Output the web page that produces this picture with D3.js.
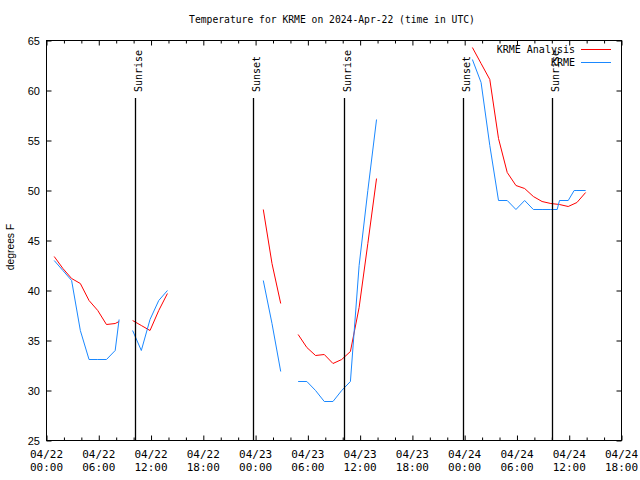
<!DOCTYPE html>
<html><head><meta charset="utf-8">
<script src="https://cdn.jsdelivr.net/npm/d3@7"></script>
<style>body{margin:0;background:#fff}svg{display:block}</style>
</head><body>
<svg id="c" width="640" height="480"></svg>
<script>
// ---- data (UTC) ----
const chartTitle = "Temperature for KRME on 2024-Apr-22 (time in UTC)";
const yLabel = "degrees F";
const xDomain = ["2024-04-22 00:00", "2024-04-24 18:00"];
const yTicks = [25, 30, 35, 40, 45, 50, 55, 60, 65];
const seriesNames = ["KRME Analysis", "KRME"];

const anaTimes = [
  "2024-04-22 00:53","2024-04-22 01:53","2024-04-22 02:53","2024-04-22 03:53","2024-04-22 04:53","2024-04-22 05:53","2024-04-22 06:53","2024-04-22 07:53","2024-04-22 08:20",
  "2024-04-22 09:00",
  "2024-04-22 09:53","2024-04-22 10:53","2024-04-22 11:53","2024-04-22 12:53","2024-04-22 13:53",
  "2024-04-22 14:53",
  "2024-04-23 00:53","2024-04-23 01:53","2024-04-23 02:53",
  "2024-04-23 03:53",
  "2024-04-23 04:53","2024-04-23 05:53","2024-04-23 06:53","2024-04-23 07:53","2024-04-23 08:53","2024-04-23 09:53","2024-04-23 10:53","2024-04-23 11:53","2024-04-23 12:53","2024-04-23 13:53",
  "2024-04-23 14:53",
  "2024-04-24 00:53","2024-04-24 01:53","2024-04-24 02:53","2024-04-24 03:53","2024-04-24 04:53","2024-04-24 05:53","2024-04-24 06:53","2024-04-24 07:53","2024-04-24 08:53","2024-04-24 09:53","2024-04-24 10:53","2024-04-24 11:53","2024-04-24 12:53","2024-04-24 13:53"
];
const anaTemps = [
  43.4, 42.2, 41.2, 40.7, 39.0, 38.0, 36.6, 36.7, 36.9,
  null,
  37.0, 36.5, 36.0, 38.0, 39.7,
  null,
  48.1, 42.7, 38.7,
  null,
  35.6, 34.3, 33.5, 33.6, 32.7, 33.1, 33.9, 38.3, 44.7, 51.2,
  null,
  64.3, 62.7, 61.1, 55.2, 51.8, 50.5, 50.2, 49.4, 48.9, 48.7, 48.6, 48.4, 48.8, 49.8
];

const obsTimes = [
  "2024-04-22 00:53","2024-04-22 01:53","2024-04-22 02:53","2024-04-22 03:53","2024-04-22 04:53","2024-04-22 05:53","2024-04-22 06:53","2024-04-22 07:53","2024-04-22 08:20",
  "2024-04-22 09:00",
  "2024-04-22 09:53","2024-04-22 10:53","2024-04-22 11:53","2024-04-22 12:53","2024-04-22 13:53",
  "2024-04-22 14:53",
  "2024-04-23 00:53","2024-04-23 01:53","2024-04-23 02:53",
  "2024-04-23 03:53",
  "2024-04-23 04:53","2024-04-23 05:53","2024-04-23 06:53","2024-04-23 07:53","2024-04-23 08:53","2024-04-23 09:53","2024-04-23 10:53","2024-04-23 11:53","2024-04-23 12:53","2024-04-23 13:53",
  "2024-04-23 14:53",
  "2024-04-24 00:53","2024-04-24 01:53","2024-04-24 02:53","2024-04-24 03:53","2024-04-24 04:53","2024-04-24 05:53","2024-04-24 06:53","2024-04-24 07:53","2024-04-24 08:53","2024-04-24 09:53","2024-04-24 10:37","2024-04-24 10:53","2024-04-24 11:53","2024-04-24 12:34","2024-04-24 12:53","2024-04-24 13:53"
];
const obsTemps = [
  43.0, 42.0, 41.0, 36.0, 33.1, 33.1, 33.1, 34.0, 37.1,
  null,
  36.0, 34.0, 37.1, 39.0, 40.0,
  null,
  41.0, 36.7, 31.9,
  null,
  30.9, 30.9, 30.0, 28.9, 28.9, 30.0, 30.9, 42.5, 50.0, 57.1,
  null,
  63.1, 60.8, 54.5, 49.0, 49.0, 48.1, 49.0, 48.1, 48.1, 48.1, 48.1, 49.0, 49.0, 50.0, 50.0, 50.0
];

const sunLabels = ["Sunrise", "Sunset", "Sunrise", "Sunset", "Sunrise"];
const sunTimes = ["2024-04-22 10:08", "2024-04-22 23:43", "2024-04-23 10:10", "2024-04-23 23:49", "2024-04-24 09:58"];

// ---- drawing ----
const parse = d3.utcParse("%Y-%m-%d %H:%M");
const svg = d3.select("#c");
const L = 46.5, R = 621.5, T = 40.5, B = 440.5;
const x = d3.scaleUtc().domain(xDomain.map(parse)).range([L, R]);
const y = d3.scaleLinear().domain([25, 65]).range([B, T]);

const mono = "'DejaVu Sans Mono', monospace";
const sans = "'Liberation Sans', Arial, sans-serif";

svg.append("rect").attr("width", 640).attr("height", 480).attr("fill", "#fff");

// title
svg.append("text").attr("x", 332).attr("y", 23).attr("text-anchor", "middle")
  .style("font-family", mono).style("font-size", "9.7px").text(chartTitle);

// ticks
const majorX = d3.utcHour.every(6).range(x.domain()[0], new Date(+x.domain()[1] + 1));
const minorX = d3.utcHour.every(2).range(x.domain()[0], new Date(+x.domain()[1] + 1)).filter(d => d.getUTCHours() % 6 !== 0);

function styleAxis(g) {
  g.select(".domain").remove();
  g.selectAll("line").attr("stroke", "#000").attr("stroke-width", 1);
}
svg.append("g").attr("transform", `translate(0,${B})`)
  .call(d3.axisBottom(x).tickValues(majorX).tickSize(-5).tickFormat("")).call(styleAxis);
svg.append("g").attr("transform", `translate(0,${B})`)
  .call(d3.axisBottom(x).tickValues(minorX).tickSize(-3).tickFormat("")).call(styleAxis);
svg.append("g").attr("transform", `translate(0,${T})`)
  .call(d3.axisTop(x).tickValues(majorX).tickSize(-5).tickFormat("")).call(styleAxis);
svg.append("g").attr("transform", `translate(0,${T})`)
  .call(d3.axisTop(x).tickValues(minorX).tickSize(-3).tickFormat("")).call(styleAxis);

const ax = svg.append("g").attr("transform", `translate(${L},0)`)
  .call(d3.axisLeft(y).tickValues(yTicks).tickSize(-5).tickPadding(6.5).tickFormat(d3.format("d"))).call(styleAxis);
ax.selectAll("text").style("font-family", sans).style("font-size", "11px").attr("fill", "#000");
svg.append("g").attr("transform", `translate(${R},0)`)
  .call(d3.axisRight(y).tickValues(yTicks).tickSize(-5).tickFormat("")).call(styleAxis);

// x labels (two lines)
const fmtDate = d3.utcFormat("%m/%d"), fmtTime = d3.utcFormat("%H:%M");
const xl = svg.append("g").selectAll("text").data(majorX).join("text")
  .attr("x", d => x(d)).attr("text-anchor", "middle")
  .style("font-family", mono).style("font-size", "11px");
xl.append("tspan").attr("x", d => x(d)).attr("y", 458).text(fmtDate);
xl.append("tspan").attr("x", d => x(d)).attr("y", 471).text(fmtTime);

// y label
svg.append("text").attr("transform", "translate(14,247) rotate(-90)").attr("text-anchor", "middle")
  .style("font-family", sans).style("font-size", "10.3px").text(yLabel);

// frame
svg.append("rect").attr("x", L).attr("y", T).attr("width", R - L).attr("height", B - T)
  .attr("fill", "none").attr("stroke", "#000").attr("stroke-width", 1);

// data lines
function mk(times, temps) { return times.map((t, i) => ({ t: parse(t), v: temps[i] })); }
const line = d3.line().defined(d => d.v != null).x(d => x(d.t)).y(d => y(d.v));
svg.append("path").datum(mk(anaTimes, anaTemps)).attr("d", line)
  .attr("fill", "none").attr("stroke", "#ff0000").attr("stroke-width", 1);
svg.append("path").datum(mk(obsTimes, obsTemps)).attr("d", line)
  .attr("fill", "none").attr("stroke", "#1a88ff").attr("stroke-width", 1);

// sunrise/sunset markers
const sun = svg.append("g").selectAll("g").data(sunTimes.map((t, i) => ({ t: parse(t), label: sunLabels[i] }))).join("g");
sun.append("line").attr("x1", d => Math.round(x(d.t)) + 0.5).attr("x2", d => Math.round(x(d.t)) + 0.5)
  .attr("y1", 98).attr("y2", B).attr("stroke", "#000").attr("stroke-width", 1.3);
sun.append("text").attr("transform", d => `translate(${Math.round(x(d.t)) + 6.5},92) rotate(-90)`)
  .style("font-family", mono).style("font-size", "10px").text(d => d.label);

// legend
const legColors = ["#ff0000", "#1a88ff"];
const leg = svg.append("g").selectAll("g").data(seriesNames).join("g")
  .attr("transform", (d, i) => `translate(0,${i * 13})`);
leg.append("text").attr("x", 575).attr("y", 53).attr("text-anchor", "end")
  .style("font-family", mono).style("font-size", "10px").text(d => d);
leg.append("line").attr("x1", 581).attr("x2", 611).attr("y1", 49.5).attr("y2", 49.5)
  .attr("stroke", (d, i) => legColors[i]).attr("stroke-width", 1);
</script>
</body></html>
